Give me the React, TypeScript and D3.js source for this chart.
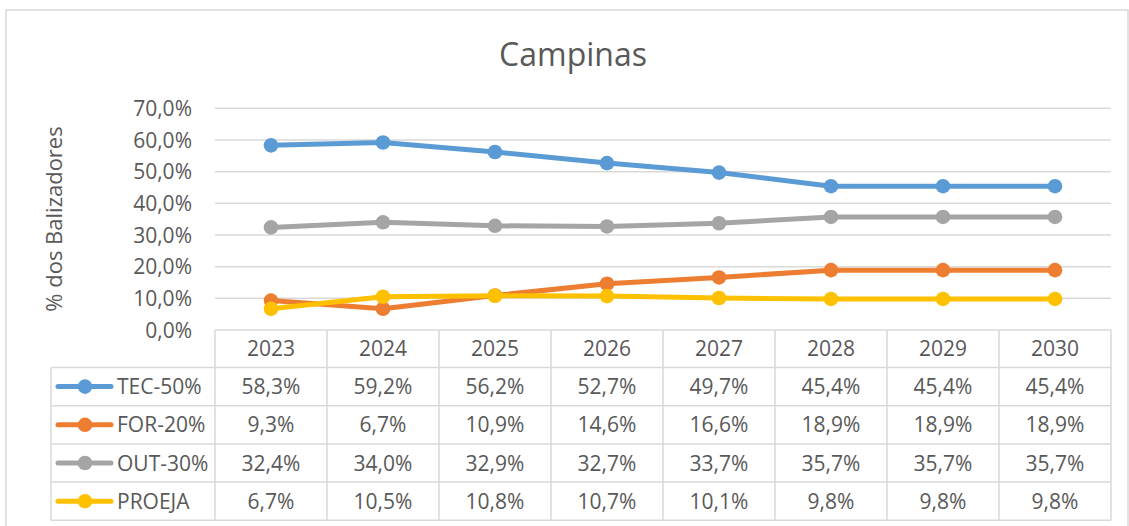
import React from "react";
import * as d3 from "d3";

const years = ["2023", "2024", "2025", "2026", "2027", "2028", "2029", "2030"];
const seriesNames = ["TEC-50%", "FOR-20%", "OUT-30%", "PROEJA"];
const tec = [58.3, 59.2, 56.2, 52.7, 49.7, 45.4, 45.4, 45.4];
const forr = [9.3, 6.7, 10.9, 14.6, 16.6, 18.9, 18.9, 18.9];
const out = [32.4, 34.0, 32.9, 32.7, 33.7, 35.7, 35.7, 35.7];
const proeja = [6.7, 10.5, 10.8, 10.7, 10.1, 9.8, 9.8, 9.8];
const yTicks = [0, 10, 20, 30, 40, 50, 60, 70];
const colors = ["#5B9BD5", "#ED7D31", "#A5A5A5", "#FFC000"];
const title = "Campinas";
const yTitle = "% dos Balizadores";

const fmt = (v: number) => v.toFixed(1).replace(".", ",") + "%";

export default function App() {
  const W = 1129, H = 526;
  const plotL = 215, plotR = 1111, plotT = 108.3, plotB = 330;
  const headerB = 367.5;
  const rowH = 38.2;
  const legendL = 51;
  const font = "'Open Sans', sans-serif";
  const textColor = "#595959";
  const grid = "#d9d9d9";

  const x = d3.scaleBand<string>().domain(years).range([plotL, plotR]);
  const y = d3.scaleLinear().domain([0, 70]).range([plotB, plotT]);
  const data = [tec, forr, out, proeja];
  const line = d3
    .line<number>()
    .x((_, i) => (x(years[i]) as number) + x.bandwidth() / 2)
    .y((d) => y(d));

  const tableBottom = headerB + rowH * 4;

  return (
    <svg
      width={W}
      height={H}
      style={{ position: "absolute", left: 0, top: 0, background: "#fff" }}
      fontFamily={font}
    >
      <rect x={0} y={0} width={W} height={H} fill="#fff" />
      <rect x={6} y={10} width={1122} height={H} fill="none" stroke={grid} strokeWidth={1.5} />
      <text x={573} y={66} textAnchor="middle" fontSize={32} fill={textColor}>
        {title}
      </text>
      <text
        transform={`translate(62,${219}) rotate(-90)`}
        textAnchor="middle"
        fontSize={22}
        fill={textColor}
      >
        {yTitle}
      </text>
      {yTicks.map((t) => (
        <g key={t}>
          {t > 0 && (
            <line x1={plotL} x2={plotR} y1={y(t)} y2={y(t)} stroke={grid} strokeWidth={1.5} />
          )}
          <text
            x={192}
            y={y(t)}
            dy="0.36em"
            textAnchor="end"
            fontSize={21}
            fill={textColor}
          >
            {fmt(t)}
          </text>
        </g>
      ))}
      {/* table grid */}
      <line x1={plotL} x2={plotR} y1={plotB} y2={plotB} stroke={grid} strokeWidth={1.5} />
      {[0, 1, 2, 3, 4].map((r) => (
        <line
          key={r}
          x1={legendL}
          x2={plotR}
          y1={headerB + r * rowH}
          y2={headerB + r * rowH}
          stroke={grid}
          strokeWidth={1.5}
        />
      ))}
      <line x1={legendL} x2={legendL} y1={headerB} y2={tableBottom} stroke={grid} strokeWidth={1.5} />
      {years.map((yr) => (
        <line
          key={yr}
          x1={x(yr) as number}
          x2={x(yr) as number}
          y1={plotB}
          y2={tableBottom}
          stroke={grid}
          strokeWidth={1.5}
        />
      ))}
      <line x1={plotR} x2={plotR} y1={plotB} y2={tableBottom} stroke={grid} strokeWidth={1.5} />
      {years.map((yr) => (
        <text
          key={yr}
          x={(x(yr) as number) + x.bandwidth() / 2}
          y={(plotB + headerB) / 2}
          dy="0.36em"
          textAnchor="middle"
          fontSize={21}
          fill={textColor}
        >
          {yr}
        </text>
      ))}
      {data.map((s, si) => {
        const cy = headerB + rowH * si + rowH / 2;
        return (
          <g key={si}>
            <line x1={58} x2={111} y1={cy} y2={cy} stroke={colors[si]} strokeWidth={5} strokeLinecap="round" />
            <circle cx={85} cy={cy} r={7.3} fill={colors[si]} />
            <text x={117} y={cy} dy="0.36em" fontSize={21} fill={textColor}>
              {seriesNames[si]}
            </text>
            {s.map((v, i) => (
              <text
                key={i}
                x={(x(years[i]) as number) + x.bandwidth() / 2}
                y={cy}
                dy="0.36em"
                textAnchor="middle"
                fontSize={21}
                fill={textColor}
              >
                {fmt(v)}
              </text>
            ))}
          </g>
        );
      })}
      {/* series lines */}
      {data.map((s, si) => (
        <g key={si}>
          <path
            d={line(s) as string}
            fill="none"
            stroke={colors[si]}
            strokeWidth={5}
            strokeLinejoin="round"
            strokeLinecap="round"
          />
          {s.map((v, i) => (
            <circle
              key={i}
              cx={(x(years[i]) as number) + x.bandwidth() / 2}
              cy={y(v)}
              r={7.3}
              fill={colors[si]}
            />
          ))}
        </g>
      ))}
    </svg>
  );
}
